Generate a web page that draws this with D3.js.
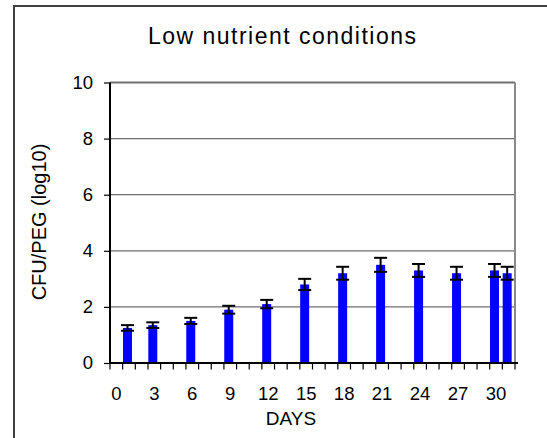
<!DOCTYPE html>
<html>
<head>
<meta charset="utf-8">
<script src="https://cdn.jsdelivr.net/npm/d3@7"></script>
<style>
  body { margin: 0; background: #fff; }
  text { font-family: "Liberation Sans", Arial, sans-serif; fill: #000; }
</style>
</head>
<body>
<div id="chart"></div>
<script>
// days 0..31 on the category axis, labelled every third day
var dayCategories = d3.range(0, 32);
var dayLabels = [0, 3, 6, 9, 12, 15, 18, 21, 24, 27, 30];
var sampleDays = [1, 3, 6, 9, 12, 15, 18, 21, 24, 27, 30, 31];
var meanCfu = [1.25, 1.35, 1.5, 1.9, 2.1, 2.8, 3.2, 3.5, 3.3, 3.2, 3.3, 3.2];
var errCfu = [0.1, 0.1, 0.11, 0.14, 0.15, 0.2, 0.23, 0.25, 0.23, 0.23, 0.23, 0.23];
var yTicks = [0, 2, 4, 6, 8, 10];

var width = 547, height = 438;
var plot = {left: 110, right: 515, top: 82.5, bottom: 363};

var svg = d3.select('#chart')
    .append('svg')
    .attr('width', width)
    .attr('height', height);

// outer chart frame (runs past the picture on right and bottom)
svg.append('rect')
    .attr('x', 14).attr('y', 6)
    .attr('width', 560).attr('height', 460)
    .attr('fill', '#fff')
    .attr('stroke', '#404040')
    .attr('stroke-width', 2);

var xScale = d3.scaleBand()
    .domain(dayCategories)
    .range([plot.left, plot.right])
    .padding(0);
var yScale = d3.scaleLinear()
    .domain([0, 10])
    .range([plot.bottom, plot.top]);

// gridlines
svg.append('g').selectAll('line')
    .data(yTicks.filter(function (d) { return d > 0; }))
    .enter().append('line')
    .attr('x1', plot.left).attr('x2', plot.right)
    .attr('y1', function (d) { return yScale(d); })
    .attr('y2', function (d) { return yScale(d); })
    .attr('stroke', '#6e6e6e')
    .attr('stroke-width', function (d) { return d === 10 ? 2 : 1.2; });

// right edge of plot area
svg.append('line')
    .attr('x1', plot.right).attr('x2', plot.right)
    .attr('y1', plot.top).attr('y2', plot.bottom)
    .attr('stroke', '#8a8a8a')
    .attr('stroke-width', 2);

// bars
var barW = xScale.bandwidth() * 0.71;
var barShift = -1.5;
var data = sampleDays.map(function (d, i) {
    return {day: d, mean: meanCfu[i], err: errCfu[i]};
});
function cx(d) { return xScale(d.day) + xScale.bandwidth() / 2 + barShift; }

svg.append('g').selectAll('rect')
    .data(data)
    .enter().append('rect')
    .attr('x', function (d) { return cx(d) - barW / 2; })
    .attr('y', function (d) { return yScale(d.mean); })
    .attr('width', barW)
    .attr('height', function (d) { return yScale(0) - yScale(d.mean); })
    .attr('fill', '#0000ff');

// error bars
var errs = svg.append('g')
    .attr('stroke', '#000')
    .attr('stroke-width', 2);
var capW = 13;
data.forEach(function (d) {
    var x = cx(d), hi = yScale(d.mean + d.err), lo = yScale(d.mean - d.err);
    errs.append('line').attr('x1', x).attr('x2', x).attr('y1', hi).attr('y2', lo);
    errs.append('line').attr('x1', x - capW / 2).attr('x2', x + capW / 2).attr('y1', hi).attr('y2', hi);
    errs.append('line').attr('x1', x - capW / 2).attr('x2', x + capW / 2).attr('y1', lo).attr('y2', lo);
});

// y axis
var yAxis = svg.append('g')
    .attr('transform', 'translate(' + plot.left + ',0)')
    .call(d3.axisLeft(yScale).tickValues(yTicks).tickSize(6).tickPadding(11));
yAxis.select('.domain').attr('stroke', '#000').attr('stroke-width', 2)
    .attr('d', 'M0,' + plot.top + 'V' + plot.bottom);
yAxis.selectAll('.tick line').attr('stroke', '#000').attr('stroke-width', 1.2);
yAxis.selectAll('.tick text')
    .style('font-size', '18.5px')
    .style('font-family', '"Liberation Sans", Arial, sans-serif');

// x axis: ticks on category boundaries
var xAxisG = svg.append('g')
    .attr('transform', 'translate(0,' + plot.bottom + ')');
xAxisG.append('line')
    .attr('x1', plot.left - 1).attr('x2', plot.right + 3)
    .attr('stroke', '#000').attr('stroke-width', 2);
xAxisG.selectAll('.xtick')
    .data(dayCategories.concat([32]))
    .enter().append('line')
    .attr('class', 'xtick')
    .attr('x1', function (d) { return d < 32 ? xScale(d) : plot.right; })
    .attr('x2', function (d) { return d < 32 ? xScale(d) : plot.right; })
    .attr('y1', 0).attr('y2', 6.5)
    .attr('stroke', '#000').attr('stroke-width', 1.2);
xAxisG.selectAll('.xlabel')
    .data(dayLabels)
    .enter().append('text')
    .attr('class', 'xlabel')
    .attr('x', function (d) { return xScale(d) + xScale.bandwidth() / 2; })
    .attr('y', 37)
    .attr('text-anchor', 'middle')
    .style('font-size', '18.5px')
    .text(function (d) { return d; });

// titles
svg.append('text')
    .attr('x', 282).attr('y', 43.5)
    .attr('text-anchor', 'middle')
    .attr('textLength', 268)
    .attr('lengthAdjust', 'spacing')
    .style('font-size', '23px')
    .text('Low nutrient conditions');

svg.append('text')
    .attr('x', 291).attr('y', 425)
    .attr('text-anchor', 'middle')
    .style('font-size', '19px')
    .text('DAYS');

svg.append('text')
    .attr('transform', 'translate(46,222) rotate(-90)')
    .attr('text-anchor', 'middle')
    .style('font-size', '20px')
    .text('CFU/PEG (log10)');
</script>
</body>
</html>
